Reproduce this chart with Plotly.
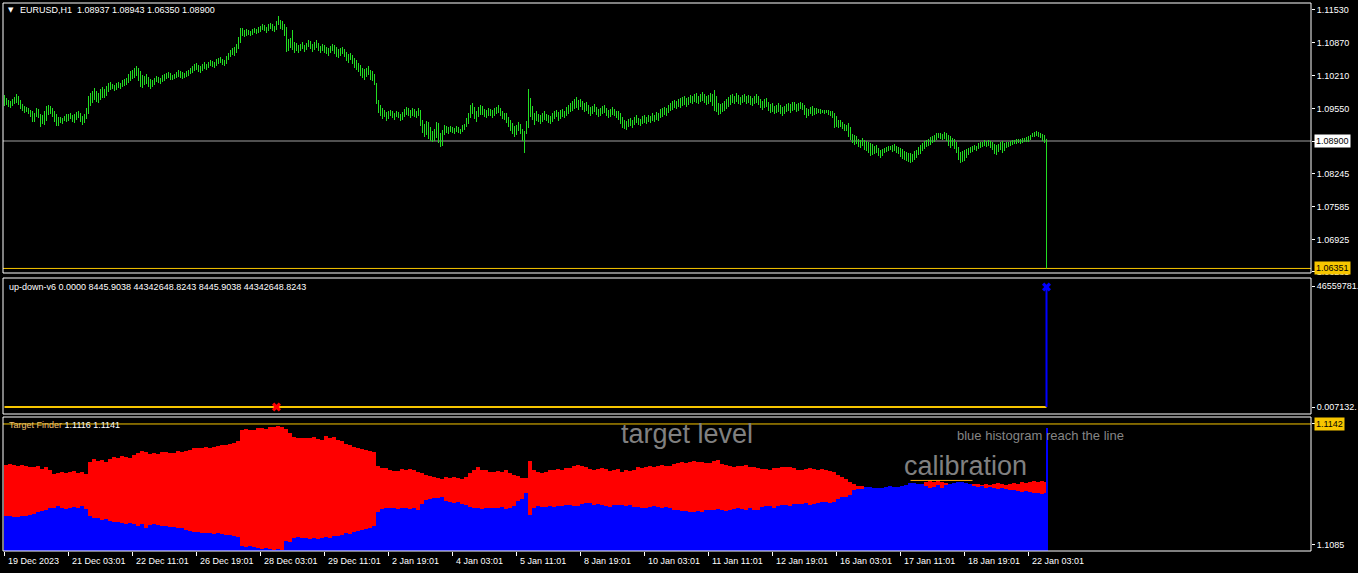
import plotly.graph_objects as go

# ---------------- DATA ----------------
# EURUSD H1 bars: low / high in pips (1e-4)
low_pips = [
10960,10962,10958,10956,10960,10964,10966,10962,10954,10950,10946,10948,10944,10938,10928,10928,
10938,10936,10918,10924,10922,10930,10942,10944,10938,10928,10920,10920,10926,10924,10930,10928,
10930,10934,10928,10926,10932,10936,10928,10922,10926,10934,10944,10960,10966,10972,10968,10966,
10972,10976,10976,10980,10988,10992,10994,10990,10992,10996,10994,10998,11000,11002,11006,11010,
11014,11016,11020,11010,10998,10996,11002,11004,10998,10994,10998,11002,11008,11006,11004,11008,
11010,11014,11016,11012,11012,11014,11016,11018,11016,11014,11016,11018,11020,11024,11026,11030,
11032,11028,11026,11030,11034,11032,11036,11040,11038,11036,11040,11044,11046,11042,11040,11044,
11052,11058,11062,11060,11066,11074,11086,11100,11098,11100,11102,11100,11102,11106,11104,11106,
11108,11112,11110,11106,11110,11114,11110,11108,11112,11122,11114,11112,11100,11068,11070,11076,
11072,11066,11070,11066,11070,11074,11068,11072,11078,11074,11068,11072,11076,11070,11066,11070,
11066,11064,11060,11066,11070,11064,11058,11056,11060,11064,11058,11050,11046,11052,11044,11036,
11032,11028,11020,11016,11012,11018,11022,11012,11010,11002,10964,10946,10940,10934,10938,10930,
10934,10940,10936,10932,10938,10936,10930,10932,10938,10942,10940,10936,10940,10938,10936,10940,
10920,10906,10898,10902,10894,10890,10888,10890,10896,10886,10878,10880,10902,10906,10904,10908,
10906,10904,10908,10906,10904,10908,10912,10918,10924,10936,10944,10934,10928,10938,10942,10942,
10938,10936,10940,10940,10936,10940,10944,10946,10940,10934,10932,10926,10918,10910,10904,10898,
10902,10910,10904,10890,10866,10904,10916,10938,10932,10922,10930,10928,10924,10928,10932,10930,
10926,10924,10928,10934,10938,10930,10934,10938,10936,10940,10944,10948,10950,10954,10956,10952,
10958,10952,10948,10950,10944,10940,10944,10948,10942,10938,10940,10944,10946,10940,10936,10938,
10942,10940,10936,10932,10924,10916,10914,10912,10918,10920,10916,10922,10926,10922,10920,10924,
10926,10924,10928,10926,10930,10928,10932,10930,10936,10938,10942,10940,10946,10950,10952,10956,
10954,10958,10956,10960,10962,10958,10962,10966,10964,10968,10966,10964,10968,10970,10966,10962,
10964,10968,10960,10950,10948,10942,10944,10948,10950,10954,10958,10962,10966,10964,10968,10964,
10962,10966,10968,10964,10966,10962,10960,10964,10966,10962,10956,10952,10956,10958,10950,10946,
10948,10944,10946,10948,10944,10940,10944,10948,10950,10946,10950,10952,10948,10950,10954,10952,
10942,10936,10940,10944,10940,10942,10944,10946,10944,10946,10944,10946,10942,10940,10936,10916,
10918,10916,10918,10914,10910,10910,10898,10892,10886,10882,10884,10878,10876,10880,10872,10870,
10866,10860,10862,10864,10866,10860,10856,10860,10866,10868,10870,10872,10868,10870,10866,10864,
10858,10854,10852,10850,10848,10846,10848,10852,10856,10862,10864,10870,10874,10878,10880,10882,
10886,10888,10892,10896,10894,10892,10894,10890,10880,10876,10880,10874,10866,10852,10846,10848,
10850,10856,10862,10866,10868,10872,10870,10874,10876,10878,10880,10878,10880,10876,10872,10864,
10862,10868,10872,10866,10870,10876,10878,10880,10882,10884,10884,10886,10884,10886,10888,10888,
10888,10892,10898,10898,10900,10898,10896,10890,10886,10635.0]
high_pips = [
10982,10976,10972,10970,10974,10978,10984,10980,10972,10964,10960,10958,10956,10952,10950,10946,
10956,10954,10944,10942,10950,10960,10962,10960,10956,10950,10944,10938,10938,10936,10940,10944,
10944,10946,10942,10944,10948,10950,10946,10940,10944,10956,10980,10986,10990,10996,10990,10986,
10994,10998,10994,11000,11006,11008,11004,11002,11006,11008,11006,11012,11014,11016,11024,11030,
11032,11036,11040,11036,11030,11022,11020,11024,11018,11014,11012,11016,11020,11018,11016,11022,
11024,11026,11028,11026,11022,11024,11028,11032,11030,11028,11026,11030,11032,11036,11040,11044,
11046,11042,11040,11044,11048,11044,11048,11052,11050,11048,11054,11056,11058,11054,11052,11060,
11066,11072,11076,11078,11084,11098,11116,11116,11112,11114,11112,11110,11114,11116,11114,11118,
11120,11124,11122,11118,11124,11126,11124,11120,11130,11140,11132,11130,11124,11118,11094,11096,
11112,11088,11086,11082,11084,11088,11082,11086,11092,11090,11084,11088,11092,11086,11080,11084,
11082,11078,11076,11080,11084,11082,11078,11074,11076,11078,11074,11068,11064,11066,11062,11056,
11052,11046,11042,11036,11034,11036,11040,11032,11030,11024,11006,10972,10962,10956,10952,10948,
10950,10952,10950,10946,10950,10948,10944,10948,10954,10958,10956,10952,10956,10954,10950,10956,
10952,10932,10924,10930,10928,10918,10910,10914,10928,10926,10906,10912,10922,10920,10918,10920,
10918,10916,10920,10918,10914,10922,10924,10936,10946,10962,10966,10958,10950,10958,10962,10960,
10954,10952,10956,10954,10952,10956,10958,10962,10956,10950,10946,10946,10938,10932,10926,10920,
10922,10928,10924,10914,10910,10930,10994,10976,10960,10946,10950,10944,10942,10946,10950,10944,
10942,10940,10946,10950,10952,10948,10952,10954,10950,10958,10962,10966,10970,10974,10978,10972,
10974,10970,10966,10968,10962,10958,10960,10964,10958,10954,10956,10960,10962,10956,10952,10954,
10958,10954,10950,10950,10946,10938,10932,10930,10934,10936,10932,10938,10942,10936,10934,10940,
10942,10938,10942,10940,10946,10942,10948,10946,10954,10956,10958,10956,10962,10966,10970,10972,
10970,10974,10976,10978,10980,10976,10978,10982,10980,10984,10986,10980,10984,10988,10984,10980,
10982,10986,10984,10992,10980,10966,10964,10966,10970,10974,10978,10982,10984,10980,10986,10982,
10978,10982,10984,10980,10982,10980,10976,10980,10984,10980,10974,10970,10974,10976,10968,10964,
10966,10960,10962,10966,10962,10958,10960,10964,10966,10964,10968,10968,10964,10966,10968,10966,
10962,10956,10954,10958,10960,10956,10956,10954,10954,10952,10952,10952,10952,10950,10950,10946,
10940,10932,10932,10928,10924,10922,10926,10918,10904,10902,10900,10894,10892,10896,10892,10890,
10888,10886,10884,10880,10882,10876,10872,10874,10876,10878,10880,10880,10882,10884,10880,10878,
10876,10874,10870,10868,10866,10866,10864,10870,10872,10878,10882,10886,10890,10892,10894,10898,
10900,10902,10906,10906,10906,10904,10908,10906,10902,10900,10896,10894,10888,10878,10868,10870,
10872,10874,10876,10878,10880,10882,10880,10886,10888,10888,10892,10890,10892,10890,10888,10884,
10882,10884,10888,10890,10886,10888,10888,10890,10892,10892,10894,10894,10894,10896,10896,10898,
10900,10902,10906,10908,10910,10908,10906,10904,10902,10894.3]

# Target Finder histograms (price * 1e5); 260 two-bar steps + last two single bars
hist_red_pts = [
111227,111231,111227,111222,111227,111222,111217,111217,111222,111208,111217,111203,111184,111189,111194,111189,111194,111199,111189,111194,
111184,111241,111255,111246,111250,111241,111255,111264,111260,111269,111264,111260,111274,111283,111293,111288,111279,111283,111279,111288,
111288,111283,111283,111293,111288,111293,111297,111307,111307,111307,111312,111307,111312,111316,111321,111321,111326,111330,111340,111392,
111396,111392,111392,111401,111401,111396,111406,111406,111410,111406,111396,111378,111359,111354,111354,111354,111354,111359,111349,111345,
111363,111354,111359,111345,111340,111326,111321,111312,111307,111302,111297,111293,111288,111222,111213,111213,111203,111199,111199,111208,
111203,111208,111203,111194,111189,111180,111175,111170,111166,111161,111170,111166,111170,111166,111161,111170,111189,111203,111217,111203,
111203,111194,111194,111199,111194,111203,111189,111180,111175,111166,111166,111246,111203,111194,111189,111194,111203,111203,111208,111203,
111213,111213,111222,111227,111222,111217,111208,111203,111208,111213,111208,111199,111203,111208,111194,111203,111199,111203,111217,111213,
111217,111222,111217,111222,111227,111222,111222,111231,111236,111241,111236,111241,111246,111241,111241,111236,111236,111246,111250,111231,
111227,111222,111217,111222,111222,111227,111217,111217,111213,111208,111208,111203,111213,111213,111217,111217,111217,111213,111203,111203,
111208,111213,111208,111203,111208,111203,111199,111194,111180,111170,111161,111147,111137,111128,111128,111118,111114,111109,111109,111114,
111109,111104,111109,111114,111118,111128,111133,111137,111137,111133,111147,111151,111147,111151,111147,111142,111137,111142,111137,111137,
111137,111133,111137,111137,111133,111137,111133,111137,111142,111137,111133,111137,111142,111137,111147,111142,111147,111151,111147,111151,
111147,111147]
hist_blue_pts = [
110987,110987,110982,110982,110987,110987,110991,110996,111005,111010,111015,111024,111024,111034,111024,111020,111024,111029,111024,111034,
111020,110987,110977,110977,110968,110972,110963,110958,110958,110954,110949,110954,110949,110940,110949,110930,110944,110949,110944,110940,
110940,110935,110935,110930,110930,110921,110916,110911,110911,110906,110906,110906,110902,110906,110902,110897,110897,110892,110888,110845,
110841,110845,110841,110836,110831,110836,110831,110826,110831,110826,110869,110864,110883,110888,110883,110883,110878,110883,110878,110883,
110888,110883,110892,110892,110897,110906,110902,110911,110916,110921,110925,110930,110940,111005,111020,111024,111024,111024,111020,111024,
111024,111020,111024,111015,111043,111062,111067,111071,111071,111076,111057,111052,111048,111052,111043,111038,111029,111024,111024,111020,
111024,111024,111024,111024,111029,111020,111024,111034,111057,111067,111095,110991,111024,111034,111029,111029,111034,111029,111034,111034,
111038,111038,111034,111034,111043,111048,111048,111038,111043,111038,111034,111029,111038,111038,111038,111034,111038,111029,111029,111024,
111024,111029,111034,111029,111024,111029,111024,111015,111015,111010,111010,111005,111005,111010,111005,111015,111015,111015,111020,111015,
111010,111015,111020,111024,111020,111015,111024,111015,111015,111029,111034,111034,111024,111034,111038,111038,111034,111043,111043,111043,
111048,111038,111043,111048,111052,111052,111048,111052,111067,111076,111076,111086,111109,111114,111114,111123,111123,111118,111118,111118,
111123,111128,111123,111123,111128,111133,111142,111142,111137,111137,111128,111118,111123,111133,111118,111133,111137,111142,111147,111147,
111142,111137,111128,111123,111128,111118,111123,111118,111114,111118,111114,111109,111109,111104,111100,111104,111100,111095,111095,111090,
111095,111401]

date_labels = ["19 Dec 2023", "21 Dec 03:01", "22 Dec 11:01", "26 Dec 19:01", "28 Dec 03:01",
               "29 Dec 11:01", "2 Jan 19:01", "4 Jan 03:01", "5 Jan 11:01", "8 Jan 19:01",
               "10 Jan 03:01", "11 Jan 11:01", "12 Jan 19:01", "16 Jan 03:01", "17 Jan 11:01",
               "18 Jan 19:01", "22 Jan 03:01"]
price_ticks = [1.11530, 1.10870, 1.10210, 1.09550, 1.08900, 1.08245, 1.07585, 1.06925, 1.06285]
last_close = 1.08900
low_line = 1.06351
updown_yellow = 8445.9038
updown_blue = 44342648.8243
updown_red_cross_bar = 136
target_line = 1.1142
tf_ticks = [1.1142, 1.1085]
calib_level = 1.11154
calib_bars = [453, 484]

# ---------------- STYLE ----------------
FONT = "Liberation Sans, Arial, sans-serif"
GREEN = "#22dd22"
GOLD = "#f7c600"
W, H = 1358, 573
ML, MR, MT, MB = 3, 47, 3, 22
PW, PH = W - ML - MR, H - MT - MB


def px(x):
    return (x - ML) / PW


def py(y):
    return (H - MB - y) / PH


fig = go.Figure()

# price bars
n = len(low_pips)
xs, ys = [], []
for i in range(n):
    xs += [i, i, None]
    ys += [low_pips[i] / 1e4, high_pips[i] / 1e4, None]
fig.add_trace(go.Scatter(x=xs, y=ys, mode="lines", line=dict(color=GREEN, width=1),
                         xaxis="x", yaxis="y", hoverinfo="skip"))

# up-down-v6 panel
fig.add_trace(go.Scatter(x=[0, n - 1], y=[updown_yellow, updown_yellow], mode="lines",
                         line=dict(color=GOLD, width=2), xaxis="x", yaxis="y2", hoverinfo="skip"))
fig.add_trace(go.Scatter(x=[n - 1, n - 1], y=[updown_yellow, updown_blue], mode="lines",
                         line=dict(color="#0000ff", width=2), xaxis="x", yaxis="y2", hoverinfo="skip"))
fig.add_trace(go.Scatter(x=[n - 1], y=[updown_blue], mode="markers",
                         marker=dict(symbol="x", size=8, color="#0000ff"), xaxis="x", yaxis="y2", hoverinfo="skip"))
fig.add_trace(go.Scatter(x=[updown_red_cross_bar], y=[updown_yellow], mode="markers",
                         marker=dict(symbol="x", size=8, color="#ff0000"), xaxis="x", yaxis="y2", hoverinfo="skip"))

# Target Finder histograms
npair = len(hist_red_pts) - 2
hx = [2 * j + 0.5 for j in range(npair)] + [n - 2, n - 1]
hw = [2] * npair + [1, 1]
fig.add_trace(go.Bar(x=hx, y=[v / 1e5 for v in hist_red_pts], width=hw,
                     marker=dict(color="#ff0000", line=dict(width=0)), xaxis="x", yaxis="y3", hoverinfo="skip"))
fig.add_trace(go.Bar(x=hx, y=[v / 1e5 for v in hist_blue_pts], width=hw,
                     marker=dict(color="#0000ff", line=dict(width=0)), xaxis="x", yaxis="y3", hoverinfo="skip"))
fig.add_trace(go.Scatter(x=calib_bars, y=[calib_level, calib_level], mode="lines",
                         line=dict(color="#ffa500", width=1), xaxis="x", yaxis="y3", hoverinfo="skip"))

tickfont = dict(family=FONT, size=9, color="white")
yax_common = dict(side="right", anchor="x", showgrid=False, zeroline=False, showline=False,
                  ticks="outside", ticklen=3, tickcolor="white", tickfont=tickfont,
                  automargin=False, fixedrange=True)

fig.update_layout(
    width=W, height=H, margin=dict(l=ML, r=MR, t=MT, b=MB),
    paper_bgcolor="black", plot_bgcolor="black", showlegend=False,
    barmode="overlay", bargap=0, hovermode=False, template="none",
    xaxis=dict(range=[-0.75, 653.25], domain=[0, 1], anchor="y3", showgrid=False, zeroline=False,
               showline=False, tickvals=[32 * k for k in range(len(date_labels))], ticks="outside",
               ticklen=4, tickcolor="white", showticklabels=False, automargin=False, fixedrange=True),
    yaxis=dict(domain=[py(273), 1], range=[1.0626, 1.1166], tickvals=price_ticks,
               ticktext=["%.5f" % v for v in price_ticks], **yax_common),
    yaxis2=dict(domain=[py(414), py(278)], range=[-2.587e6, 47.67e6],
                tickvals=[44.7e6, 0], ticktext=["46559781.", "0.007132."], **yax_common),
    yaxis3=dict(domain=[0, py(417)], range=[1.108217, 1.114529], tickvals=tf_ticks,
                ticktext=["%.4f" % v for v in tf_ticks], **yax_common),
)

shapes = []
for yr in ["y", "y2", "y3"]:
    shapes.append(dict(type="rect", xref="paper", yref=yr + " domain", x0=0, x1=1, y0=0, y1=1,
                       line=dict(color="white", width=1), layer="above"))
shapes.append(dict(type="line", xref="paper", yref="y", x0=0, x1=1, y0=last_close, y1=last_close,
                   line=dict(color="#a0a0a0", width=1), layer="below"))
shapes.append(dict(type="line", xref="paper", yref="y", x0=0, x1=1, y0=low_line, y1=low_line,
                   line=dict(color=GOLD, width=1), layer="below"))
shapes.append(dict(type="line", xref="paper", yref="y3", x0=0, x1=1, y0=target_line, y1=target_line,
                   line=dict(color=GOLD, width=1), layer="below"))
fig.update_layout(shapes=shapes)

ann = []
for k, lab in enumerate(date_labels):
    ann.append(dict(x=32 * k, xref="x", y=py(561), yref="paper", text=lab, showarrow=False,
                    xanchor="left", yanchor="middle", xshift=1, font=tickfont))
# price boxes
ann.append(dict(x=px(1314), xref="paper", y=last_close, yref="y", text="%.5f" % last_close,
                showarrow=False, xanchor="left", yanchor="middle", bgcolor="white", borderpad=1,
                font=dict(family=FONT, size=9, color="black")))
ann.append(dict(x=px(1314), xref="paper", y=low_line, yref="y", text="%.5f" % low_line,
                showarrow=False, xanchor="left", yanchor="middle", bgcolor=GOLD, borderpad=1,
                font=dict(family=FONT, size=9, color="black")))
ann.append(dict(x=px(1314), xref="paper", y=target_line, yref="y3", text="%.4f" % target_line,
                showarrow=False, xanchor="left", yanchor="middle", bgcolor=GOLD, borderpad=1,
                font=dict(family=FONT, size=9, color="black")))
# panel titles
ann.append(dict(x=px(6), xref="paper", y=py(10), yref="paper", text="\u25bc", showarrow=False,
                xanchor="left", yanchor="middle", font=dict(family="DejaVu Sans", size=7, color="white")))
ann.append(dict(x=px(18), xref="paper", y=py(10), yref="paper",
                text="EURUSD,H1\u00a0 1.08937 1.08943 1.06350 1.08900", showarrow=False,
                xanchor="left", yanchor="middle", font=tickfont))
ann.append(dict(x=px(7), xref="paper", y=py(287), yref="paper",
                text="up-down-v6 0.0000 8445.9038 44342648.8243 8445.9038 44342648.8243",
                showarrow=False, xanchor="left", yanchor="middle", font=tickfont))
ann.append(dict(x=px(7), xref="paper", y=py(425), yref="paper",
                text="<span style='color:#f0c070'>Target Finder</span> 1.1116 1.1141",
                showarrow=False, xanchor="left", yanchor="middle", font=tickfont))
# comments on the histogram
ann.append(dict(x=341.25, xref="x", y=1.11373, yref="y3", text="target level", showarrow=False,
                xanchor="center", yanchor="middle", font=dict(family=FONT, size=27, color="#808080")))
ann.append(dict(x=480.25, xref="x", y=1.11222, yref="y3", text="calibration", showarrow=False,
                xanchor="center", yanchor="middle", font=dict(family=FONT, size=27, color="#808080")))
ann.append(dict(x=475.25, xref="x", y=1.11368, yref="y3", text="blue histogram reach the line",
                showarrow=False, xanchor="left", yanchor="middle",
                font=dict(family=FONT, size=13, color="#858585")))
fig.update_layout(annotations=ann)

fig.write_html("out.html", config={"displayModeBar": False, "staticPlot": True},
               post_script="document.body.style.margin='0';document.body.style.overflow='hidden';")
